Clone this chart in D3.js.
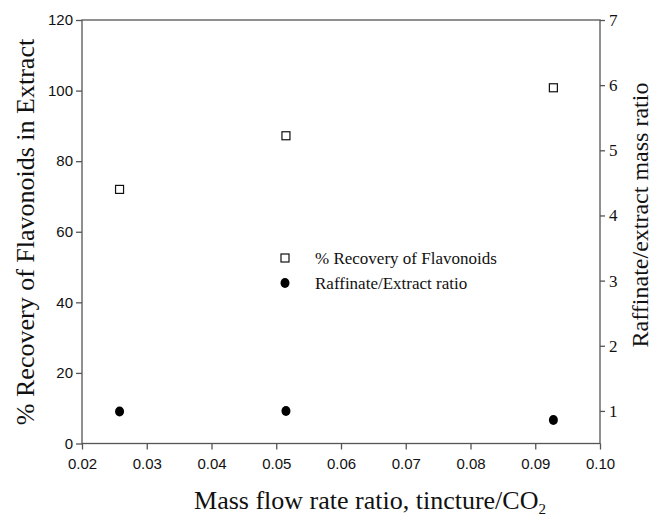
<!DOCTYPE html>
<html><head><meta charset="utf-8">
<script src="https://cdn.jsdelivr.net/npm/d3@7"></script>
<style>body{margin:0;background:#fff}</style>
</head><body>
<svg id="c" width="660" height="522"></svg>
<script>
const flowRatio = [0.0258, 0.0515, 0.0928];
const recovery = [72.0, 87.2, 100.8];
const raffinateRatio = [0.99, 1.0, 0.86];
const xTicks = [0.02, 0.03, 0.04, 0.05, 0.06, 0.07, 0.08, 0.09, 0.10];
const yLeftTicks = [0, 20, 40, 60, 80, 100, 120];
const yRightTicks = [1, 2, 3, 4, 5, 6, 7];
const legendLabels = ["% Recovery of Flavonoids", "Raffinate/Extract ratio"];

const svg = d3.select("#c");
const L = 82, R = 600, T = 20, B = 443.5;
const x = d3.scaleLinear().domain([0.02, 0.10]).range([L, R]);
const yL = d3.scaleLinear().domain([0, 120]).range([B, T]);
const yR = d3.scaleLinear().domain([0.5, 7]).range([B, T]);
const axisColor = "#555";
const sans = "'Liberation Sans', Arial, sans-serif";
const serif = "'Liberation Serif', 'Times New Roman', serif";

function style(g, font, size) {
  g.select(".domain").remove();
  g.selectAll(".tick line").attr("stroke", axisColor).attr("stroke-width", 1.3);
  g.selectAll(".tick text").attr("fill", "#111").style("font-family", font).style("font-size", size + "px");
}

// frame
svg.append("rect").attr("x", L).attr("y", T).attr("width", R - L).attr("height", B - T)
  .attr("fill", "none").attr("stroke", axisColor).attr("stroke-width", 1.3);

svg.append("g").attr("transform", `translate(0,${B})`)
  .call(d3.axisBottom(x).tickValues(xTicks).tickFormat(d3.format(".2f")).tickSizeOuter(0).tickSize(6).tickPadding(9))
  .call(g => style(g, sans, 15));

svg.append("g").attr("transform", `translate(${L},0)`)
  .call(d3.axisLeft(yL).tickValues(yLeftTicks).tickFormat(d3.format("d")).tickSizeOuter(0).tickSize(6).tickPadding(3))
  .call(g => style(g, sans, 15));

svg.append("g").attr("transform", `translate(${R},0)`)
  .call(d3.axisRight(yR).tickValues(yRightTicks).tickFormat(d3.format("d")).tickSizeOuter(0).tickSize(5).tickPadding(4))
  .call(g => style(g, serif, 17));

// squares: recovery
svg.append("g").selectAll("rect").data(flowRatio).join("rect")
  .attr("x", (d) => x(d) - 4).attr("y", (d, i) => yL(recovery[i]) - 4)
  .attr("width", 8).attr("height", 8)
  .attr("fill", "#fff").attr("stroke", "#111").attr("stroke-width", 1.2);

// circles: raffinate ratio
svg.append("g").selectAll("ellipse").data(flowRatio).join("ellipse")
  .attr("cx", d => x(d)).attr("cy", (d, i) => yR(raffinateRatio[i]))
  .attr("rx", 4.5).attr("ry", 5).attr("fill", "#000");

// legend
const lg = svg.append("g");
lg.append("rect").attr("x", 281).attr("y", 254).attr("width", 8).attr("height", 8)
  .attr("fill", "#fff").attr("stroke", "#111").attr("stroke-width", 1.2);
lg.append("ellipse").attr("cx", 285).attr("cy", 283).attr("rx", 4.5).attr("ry", 5).attr("fill", "#000");
lg.selectAll("text").data(legendLabels).join("text")
  .attr("x", 315).attr("y", (d, i) => 264 + i * 25)
  .style("font-family", serif).style("font-size", "17px").attr("fill", "#111")
  .text(d => d);

// axis titles
const bt = svg.append("text").attr("x", 370).attr("y", 509).attr("text-anchor", "middle")
  .style("font-family", serif).style("font-size", "26px").attr("fill", "#111");
bt.append("tspan").text("Mass flow rate ratio, tincture/CO");
bt.append("tspan").attr("dy", 5).style("font-size", "15px").text("2");

svg.append("text").attr("transform", "translate(34,232) rotate(-90)").attr("text-anchor", "middle")
  .style("font-family", serif).style("font-size", "26px").attr("fill", "#111")
  .text("% Recovery of Flavonoids in Extract");

svg.append("text").attr("transform", "translate(648,215) rotate(-90)").attr("text-anchor", "middle")
  .style("font-family", serif).style("font-size", "24px").attr("fill", "#111")
  .text("Raffinate/extract mass ratio");
</script>
</body></html>
